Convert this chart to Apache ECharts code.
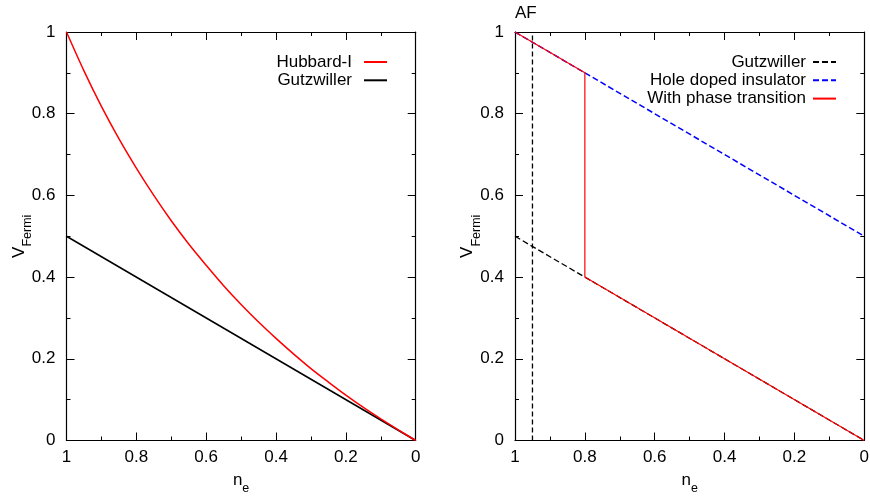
<!DOCTYPE html>
<html><head><meta charset="utf-8">
<script src="https://cdn.jsdelivr.net/npm/echarts@6/dist/echarts.min.js"></script>
<style>html,body{margin:0;padding:0;background:#fff}#c{width:870px;height:498px}</style>
</head><body><div id="c"></div>
<script>
// ---- data ----
const neHubbard = [1.00,0.95,0.90,0.85,0.80,0.75,0.70,0.65,0.60,0.55,0.50,0.45,0.40,0.35,0.30,0.25,0.20,0.15,0.10,0.05,0.00];
const vHubbard  = [1.000,0.905,0.818,0.739,0.667,0.600,0.538,0.481,0.429,0.379,0.333,0.290,0.250,0.212,0.176,0.143,0.111,0.081,0.053,0.026,0.000];
const neLinear = [1, 0];
const vGutzwiller = [0.5, 0];
const vHoleDoped = [1.0, 0.5];
const neTransition = [1, 0.8, 0.8, 0];
const vTransition  = [1, 0.9, 0.4, 0];
const neAF = [0.95, 0.95];
const vAF  = [0, 1];

const zip = (xs, ys) => xs.map((x, i) => [x, ys[i]]);
const FONT = '"Liberation Sans", Arial, Helvetica, sans-serif';

function axis(type, pos, gridIndex, showLabel, extra) {
  return Object.assign({
    type: 'value', gridIndex, position: pos,
    min: 0, max: 1, interval: 0.2,
    axisLine: { show: true, onZero: false, lineStyle: { color: '#000', width: 1.2 } },
    axisTick: { show: true, inside: true, length: 8, lineStyle: { color: '#000', width: 1 } },
    minorTick: { show: true, splitNumber: 2, length: 4, lineStyle: { color: '#000', width: 1 } },
    splitLine: { show: false }, minorSplitLine: { show: false },
    axisLabel: { show: showLabel, color: '#000', fontFamily: FONT, fontSize: 17,
                 margin: type === 'x' ? 8 : 11 }
  }, type === 'x' ? { inverse: true } : {}, extra || {});
}

const xName = {
  name: '{n|n}{s|e}', nameLocation: 'middle', nameGap: 31, nameMoveOverlap: false,
  nameTextStyle: { color: '#000', fontFamily: FONT, rich: {
    n: { fontSize: 17, lineHeight: 20, verticalAlign: 'top', fontFamily: FONT, color: '#000' },
    s: { fontSize: 12.5, lineHeight: 12, padding: [11, 0, 0, 0], verticalAlign: 'top', fontFamily: FONT, color: '#000' } } }
};
const yName = {
  name: '{v|V}{s|Fermi}', nameLocation: 'middle', nameGap: 36, nameMoveOverlap: false,
  nameTextStyle: { color: '#000', fontFamily: FONT, rich: {
    v: { fontSize: 17, lineHeight: 20, verticalAlign: 'top', fontFamily: FONT, color: '#000' },
    s: { fontSize: 12.5, lineHeight: 12, padding: [11, 0, 0, 0], verticalAlign: 'top', fontFamily: FONT, color: '#000' } } }
};

const legendBase = { orient: 'vertical', align: 'right', top: 53.5, padding: 0,
  itemWidth: 23, itemHeight: 14, itemGap: 1.3, selectedMode: false,
  itemStyle: { opacity: 0 }, formatter: n => n.trim() };

const option = {
  animation: false,
  backgroundColor: '#fff',
  grid: [
    { left: 66.5, top: 32, width: 349.2, height: 408.5, outerBoundsMode: 'none', containLabel: false },
    { left: 515, top: 32, width: 349.3, height: 408.5, outerBoundsMode: 'none', containLabel: false }
  ],
  xAxis: [
    axis('x', 'bottom', 0, true, xName),
    axis('x', 'top', 0, false),
    axis('x', 'bottom', 1, true, xName),
    axis('x', 'top', 1, false)
  ],
  yAxis: [
    axis('y', 'left', 0, true, yName),
    axis('y', 'right', 0, false),
    axis('y', 'left', 1, true, yName),
    axis('y', 'right', 1, false)
  ],
  legend: [
    Object.assign({}, legendBase, { data: ['Hubbard-I', 'Gutzwiller'], right: 482,
      textStyle: { color: '#000', fontFamily: FONT, fontSize: 17, padding: [0, 7, 0, 0] } }),
    Object.assign({}, legendBase, { data: ['Gutzwiller ', 'Hole doped insulator', 'With phase transition'], right: 33,
      textStyle: { color: '#000', fontFamily: FONT, fontSize: 17, padding: [0, 2, 0, 0] } })
  ],
  graphic: [
    { type: 'text', left: 515, top: 5, style: { text: 'AF', fill: '#000', font: '17px ' + FONT } }
  ],
  series: [
    { name: 'Gutzwiller', type: 'line', xAxisIndex: 0, yAxisIndex: 0, symbol: 'none',
      data: zip(neLinear, vGutzwiller), lineStyle: { color: '#000', width: 1.5 }, itemStyle: { color: '#000' } },
    { name: 'Hubbard-I', type: 'line', xAxisIndex: 0, yAxisIndex: 0, symbol: 'none', smooth: 0.3,
      data: zip(neHubbard, vHubbard), lineStyle: { color: '#ff0000', width: 1.5 }, itemStyle: { color: '#ff0000' } },
    { name: 'AF', type: 'line', xAxisIndex: 2, yAxisIndex: 2, symbol: 'none',
      data: zip(neAF, vAF), lineStyle: { color: '#000', width: 1.3, type: [5, 3] } },
    { name: 'Gutzwiller ', type: 'line', xAxisIndex: 2, yAxisIndex: 2, symbol: 'none',
      data: zip(neLinear, vGutzwiller), lineStyle: { color: '#000', width: 1.3, type: [6, 3] }, itemStyle: { color: '#000' } },
    { name: 'Hole doped insulator', type: 'line', xAxisIndex: 2, yAxisIndex: 2, symbol: 'none',
      data: zip(neLinear, vHoleDoped), lineStyle: { color: '#0000ff', width: 1.5, type: [6, 3] }, itemStyle: { color: '#0000ff' } },
    { name: 'With phase transition', type: 'line', xAxisIndex: 2, yAxisIndex: 2, symbol: 'none',
      data: zip(neTransition, vTransition), lineStyle: { color: '#ff0000', width: 1.2 }, itemStyle: { color: '#ff0000' } }
  ]
};
echarts.init(document.getElementById('c')).setOption(option);
</script></body></html>
